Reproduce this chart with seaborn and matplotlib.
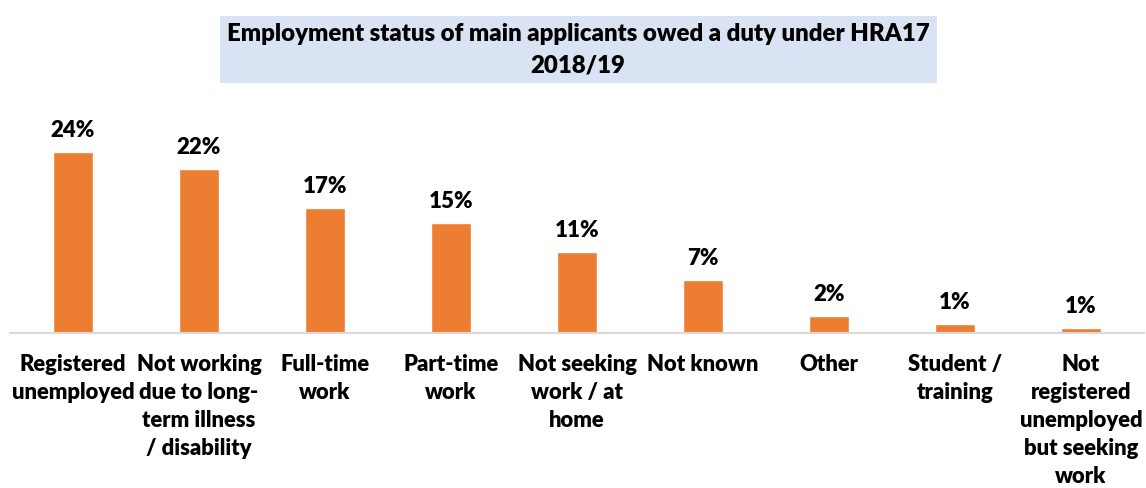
import pandas as pd
import seaborn as sns
import matplotlib.pyplot as plt
from matplotlib.patches import Rectangle

# Categories and values (percent)
categories = [
    "Registered\nunemployed",
    "Not working\ndue to long-\nterm illness\n/ disability",
    "Full-time\nwork",
    "Part-time\nwork",
    "Not seeking\nwork / at\nhome",
    "Not known",
    "Other",
    "Student /\ntraining",
    "Not\nregistered\nunemployed\nbut seeking\nwork",
]
values = [24.1, 21.8, 16.6, 14.6, 10.8, 7.0, 2.2, 1.2, 0.7]
labels = ["24%", "22%", "17%", "15%", "11%", "7%", "2%", "1%", "1%"]

title = "Employment status of main applicants owed a duty under HRA17\n2018/19"


def main():
    sns.set_theme(style="white")
    plt.rcParams["font.family"] = ["Lato", "DejaVu Sans"]

    df = pd.DataFrame({"category": categories, "value": values})

    fig = plt.figure(figsize=(11.46, 4.88), dpi=100)
    ax = fig.add_axes([10 / 1146, 0.3176, 1134 / 1146, 0.4623])

    sns.barplot(data=df, x="category", y="value", color="#ED7D31",
                width=0.32, saturation=1, ax=ax)

    ax.set_xlim(-0.5, len(categories) - 0.5)
    ax.set_ylim(0, 30)

    # data labels
    for i, (v, lab) in enumerate(zip(values, labels)):
        ax.annotate(lab, (i, v), xytext=(0, 8), textcoords="offset points",
                    ha="center", va="bottom", fontsize=16, fontweight="heavy",
                    color="black")

    ax.set_xlabel("")
    ax.set_ylabel("")
    ax.set_yticks([])
    ax.tick_params(axis="x", length=0, pad=15)
    for t in ax.get_xticklabels():
        t.set_fontsize(15.8)
        t.set_fontweight("heavy")
        t.set_color("black")
        t.set_linespacing(1.41)
        t.set_verticalalignment("top")

    for side in ["top", "right", "left"]:
        ax.spines[side].set_visible(False)
    ax.spines["bottom"].set_color("#D9D9D9")
    ax.spines["bottom"].set_linewidth(1.5)

    # title box
    fig.patches.append(Rectangle((220 / 1146, 1 - 83 / 488), 717 / 1146, 67 / 488,
                                 transform=fig.transFigure, facecolor="#DAE3F3",
                                 edgecolor="none", zorder=0))
    fig.text(578 / 1146, 1 - 49.5 / 488, title, ha="center", va="center",
             fontsize=17.3, fontweight="heavy", color="black", linespacing=1.5)

    fig.savefig("out.png", dpi=100)


if __name__ == "__main__":
    main()
